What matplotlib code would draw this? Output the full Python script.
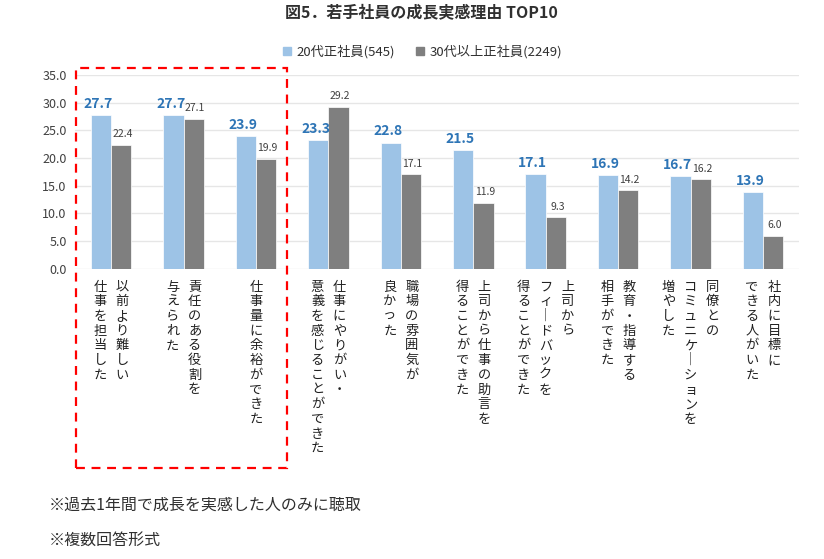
import numpy as np
import matplotlib
matplotlib.use("Agg")
import matplotlib.pyplot as plt
import matplotlib.transforms as mtransforms
from matplotlib.patches import Rectangle, Patch

plt.rcParams['font.family'] = ['Noto Sans CJK JP', 'DejaVu Sans']

# data
categories = [
    ["以前より難しい", "仕事を担当した"],
    ["責任のある役割を", "与えられた"],
    ["仕事量に余裕ができた"],
    ["仕事にやりがい・", "意義を感じることができた"],
    ["職場の雰囲気が", "良かった"],
    ["上司から仕事の助言を", "得ることができた"],
    ["上司から", "フィードバックを", "得ることができた"],
    ["教育・指導する", "相手ができた"],
    ["同僚との", "コミュニケーションを", "増やした"],
    ["社内に目標に", "できる人がいた"],
]
young = [27.7, 27.7, 23.9, 23.3, 22.8, 21.5, 17.1, 16.9, 16.7, 13.9]
older = [22.4, 27.1, 19.9, 29.2, 17.1, 11.9, 9.3, 14.2, 16.2, 6.0]
series_names = ["20代正社員(545)", "30代以上正社員(2249)"]
yticks = [0, 5, 10, 15, 20, 25, 30, 35]

blue = '#9DC3E6'
gray = '#7F7F7F'
blue_txt = '#2E75B6'

fig = plt.figure(figsize=(8.24, 5.59), dpi=100)
ax = fig.add_axes([0.091, 0.519, 0.879, 0.347])

x = np.arange(len(young))
w = 0.28
b1 = ax.bar(x - w/2, young, w, color=blue, edgecolor='white', lw=0.5, zorder=3)
b2 = ax.bar(x + w/2, older, w, color=gray, edgecolor='white', lw=0.5, zorder=3)

#value labels
for rect, v in zip(b1, young):
    ax.annotate(f"{v:.1f}", (rect.get_x() + rect.get_width()/2, v),
                xytext=(-2, 3), textcoords='offset points', ha='center', va='bottom',
                fontsize=10, fontweight='bold', color=blue_txt)
for rect, v in zip(b2, older):
    ax.annotate(f"{v:.1f}", (rect.get_x() + rect.get_width()/2, v),
                xytext=(1, 4), textcoords='offset points', ha='center', va='bottom',
                fontsize=7.5, color='#404040')

ax.set_xlim(-0.5, len(young) - 0.5)
ax.set_ylim(0, 35)
ax.set_yticks(yticks)
ax.set_yticklabels([f"{t:.1f}" for t in yticks], fontsize=9, color='#404040')
ax.set_xticks([])
ax.tick_params(axis='y', length=0, pad=6)
ax.grid(axis='y', color='#E6E6E6', lw=1, zorder=0)
for s in ax.spines.values():
    s.set_visible(False)

#vertical category labels (columns right to left)
col_gap = 0.304
trans = mtransforms.blended_transform_factory(ax.transData, ax.transAxes)
for i, cols in enumerate(categories):
    n = len(cols)
    for j, col in enumerate(cols):
        cx = i + ((n - 1) / 2 - j) * col_gap
        txt = "\n".join(col.replace("ー", "｜"))
        ax.text(cx, -0.06, txt, transform=trans, ha='center', va='top',
                multialignment='center', fontsize=9.5, linespacing=1.17,
                color='#202020')

#red dashed highlight box
ax.add_patch(Rectangle((-0.49, -1.026), 2.92, 2.062, transform=trans,
                       fill=False, edgecolor='#FF0000', ls=(0, (4, 3)), lw=1.6,
                       clip_on=False, zorder=5))

fig.text(0.512, 0.978, "図5．若手社員の成長実感理由 TOP10", ha='center', va='center',
         fontsize=11.5, fontweight='bold', color='#303030')

handles = [Patch(color=blue), Patch(color=gray)]
fig.legend(handles, series_names, loc='center', bbox_to_anchor=(0.513, 0.907),
           ncol=2, frameon=False, fontsize=9.5, handlelength=0.6, handleheight=0.6,
           handletextpad=0.4, columnspacing=1.6, labelcolor='#303030')

fig.text(0.059, 0.097, "※過去1年間で成長を実感した人のみに聴取", ha='left', va='center',
         fontsize=11.5, color='#303030')
fig.text(0.059, 0.034, "※複数回答形式", ha='left', va='center',
         fontsize=11.5, color='#303030')

plt.savefig("out.png", dpi=100)
plt.close()
